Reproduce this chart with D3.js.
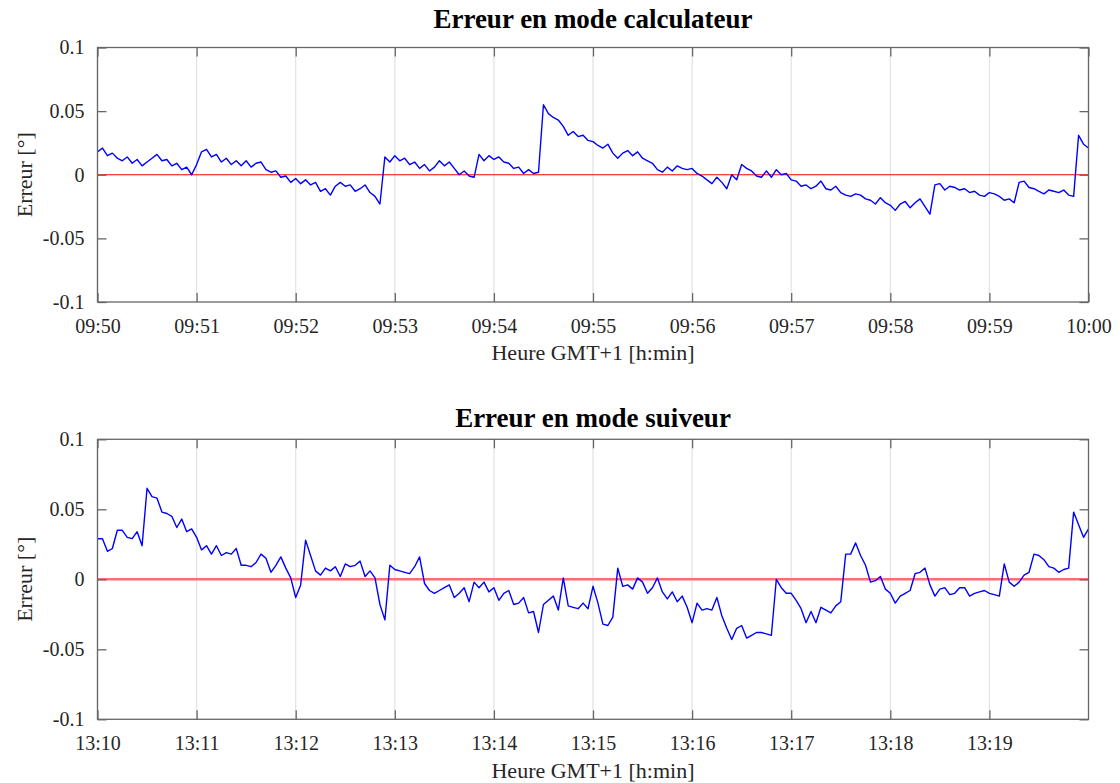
<!DOCTYPE html>
<html>
<head>
<meta charset="utf-8">
<script src="https://cdn.jsdelivr.net/npm/d3@7"></script>
<style>
	body { margin: 0; background: #fff; }
	text { font-family: 'Liberation Serif', 'Times New Roman', serif; }
</style>
</head>
<body>
<div id="chart"></div>
<script>
// sample spacing of the logged error, seconds
var sampleStep = 3;

var yTicks = [-0.1, -0.05, 0, 0.05, 0.1];
var yTickLabels = ['-0.1', '-0.05', '0', '0.05', '0.1'];

// calculator mode, 09:50 -> 10:00
var calcStart = '09:50:00';
var calcEnd = '10:00:00';
var calcTicks = ['09:50', '09:51', '09:52', '09:53', '09:54', '09:55', '09:56', '09:57', '09:58', '09:59', '10:00'];
var calcValues = [
	0.018, 0.021, 0.015, 0.017, 0.013, 0.011, 0.014, 0.009, 0.012, 0.007,
	0.010, 0.013, 0.016, 0.011, 0.012, 0.007, 0.009, 0.004, 0.006, 0.000,
	0.008, 0.018, 0.020, 0.014, 0.016, 0.010, 0.013, 0.008, 0.011, 0.007,
	0.011, 0.006, 0.009, 0.010, 0.004, 0.002, 0.003, -0.002, -0.001, -0.006,
	-0.003, -0.007, -0.004, -0.008, -0.006, -0.013, -0.011, -0.016, -0.009, -0.006,
	-0.009, -0.008, -0.013, -0.011, -0.008, -0.014, -0.017, -0.023, 0.014, 0.010,
	0.015, 0.011, 0.013, 0.008, 0.010, 0.005, 0.008, 0.003, 0.006, 0.011,
	0.007, 0.010, 0.005, 0.000, 0.003, -0.001, -0.002, 0.016, 0.011, 0.015,
	0.012, 0.014, 0.010, 0.009, 0.005, 0.006, 0.001, 0.004, 0.001, 0.002,
	0.055, 0.048, 0.045, 0.043, 0.038, 0.031, 0.034, 0.030, 0.031, 0.027,
	0.026, 0.023, 0.021, 0.024, 0.017, 0.013, 0.017, 0.019, 0.015, 0.018,
	0.013, 0.011, 0.009, 0.004, 0.002, 0.006, 0.003, 0.007, 0.005, 0.004,
	0.005, 0.001, -0.001, -0.004, -0.007, -0.002, -0.006, -0.011, 0.000, -0.004,
	0.008, 0.005, 0.003, -0.001, -0.002, 0.003, -0.002, 0.004, 0.000, 0.001,
	-0.004, -0.005, -0.009, -0.008, -0.011, -0.009, -0.005, -0.011, -0.012, -0.009,
	-0.014, -0.016, -0.017, -0.015, -0.016, -0.019, -0.020, -0.023, -0.018, -0.022,
	-0.024, -0.028, -0.023, -0.021, -0.026, -0.022, -0.019, -0.025, -0.031, -0.008,
	-0.007, -0.012, -0.009, -0.010, -0.012, -0.011, -0.014, -0.013, -0.016, -0.017,
	-0.014, -0.015, -0.017, -0.020, -0.019, -0.022, -0.006, -0.005, -0.010, -0.011,
	-0.013, -0.015, -0.012, -0.013, -0.014, -0.012, -0.016, -0.017, 0.031, 0.024,
	0.021
];

// tracker mode, 13:10 -> 13:20
var suivStart = '13:10:00';
var suivEnd = '13:20:00';
var suivTicks = ['13:10', '13:11', '13:12', '13:13', '13:14', '13:15', '13:16', '13:17', '13:18', '13:19'];
var suivValues = [
	0.029, 0.029, 0.020, 0.022, 0.035, 0.035, 0.030, 0.029, 0.034, 0.024,
	0.065, 0.059, 0.058, 0.048, 0.047, 0.045, 0.037, 0.043, 0.034, 0.036,
	0.030, 0.021, 0.024, 0.018, 0.024, 0.017, 0.019, 0.018, 0.022, 0.010,
	0.010, 0.009, 0.012, 0.018, 0.015, 0.005, 0.010, 0.016, 0.008, 0.001,
	-0.013, -0.004, 0.028, 0.017, 0.006, 0.003, 0.008, 0.006, 0.009, 0.002,
	0.011, 0.009, 0.010, 0.013, 0.002, 0.006, 0.001, -0.018, -0.029, 0.010,
	0.007, 0.006, 0.005, 0.004, 0.009, 0.016, -0.003, -0.008, -0.010, -0.008,
	-0.006, -0.004, -0.013, -0.010, -0.006, -0.016, -0.002, -0.006, -0.002, -0.009,
	-0.006, -0.015, -0.010, -0.008, -0.018, -0.017, -0.013, -0.024, -0.023, -0.038,
	-0.018, -0.015, -0.012, -0.022, 0.001, -0.019, -0.020, -0.021, -0.017, -0.021,
	-0.005, -0.017, -0.032, -0.033, -0.027, 0.008, -0.005, -0.004, -0.007, 0.001,
	-0.002, -0.010, -0.006, 0.001, -0.009, -0.014, -0.009, -0.016, -0.012, -0.020,
	-0.031, -0.017, -0.022, -0.021, -0.022, -0.013, -0.026, -0.035, -0.043, -0.035,
	-0.033, -0.042, -0.040, -0.038, -0.038, -0.039, -0.040, 0.000, -0.006, -0.010,
	-0.010, -0.015, -0.021, -0.031, -0.023, -0.031, -0.020, -0.022, -0.024, -0.019,
	-0.016, 0.018, 0.018, 0.026, 0.017, 0.010, -0.002, -0.001, 0.002, -0.007,
	-0.010, -0.017, -0.012, -0.010, -0.008, 0.004, 0.005, 0.008, -0.004, -0.012,
	-0.007, -0.006, -0.011, -0.010, -0.006, -0.006, -0.012, -0.010, -0.009, -0.008,
	-0.010, -0.011, -0.012, 0.011, -0.002, -0.005, -0.002, 0.003, 0.005, 0.018,
	0.017, 0.014, 0.009, 0.008, 0.005, 0.007, 0.008, 0.048, 0.039, 0.030,
	0.036
];

var width = 1120;
var height = 783;
var left = 97.5;
var right = 1088.5;

var parseTime = d3.timeParse('%H:%M:%S');
var parseMin = d3.timeParse('%H:%M');

var svg = d3.select('#chart').append('svg')
	.attr('width', width)
	.attr('height', height);

const drawPanel = (p, idx) => {
	var t0 = parseTime(p.start);
	var x = d3.scaleTime().domain([t0, parseTime(p.end)]).range([left, right]);
	var y = d3.scaleLinear().domain([-0.1, 0.1]).range([p.bottom, p.top]);
	var points = p.values.map((v, i) => ({ t: d3.timeSecond.offset(t0, i * sampleStep), v: v }));
	var tickDates = p.ticks.map(parseMin);

	var g = svg.append('g');

	g.append('clipPath').attr('id', 'clip' + idx)
		.append('rect')
		.attr('x', left).attr('y', p.top)
		.attr('width', right - left).attr('height', p.bottom - p.top);

	// vertical grid
	g.selectAll('.grid')
		.data(tickDates)
		.enter()
		.append('line')
		.attr('x1', (d) => x(d)).attr('x2', (d) => x(d))
		.attr('y1', p.top).attr('y2', p.bottom)
		.attr('stroke', '#e4e4e4')
		.attr('stroke-width', 1.3);

	// zero reference
	g.append('line')
		.attr('x1', left).attr('x2', right)
		.attr('y1', y(0)).attr('y2', y(0))
		.attr('stroke', p.zeroColor)
		.attr('stroke-width', p.zeroWidth);

	// error signal
	var line = d3.line().x((d) => x(d.t)).y((d) => y(d.v));
	g.append('path')
		.datum(points)
		.attr('clip-path', 'url(#clip' + idx + ')')
		.attr('d', line)
		.attr('fill', 'none')
		.attr('stroke', '#0000ff')
		.attr('stroke-width', 1.4)
		.attr('stroke-linejoin', 'round');

	// axes, ticks pointing inward on all sides
	var fmt = d3.timeFormat('%H:%M');
	var ax = [
		g.append('g').attr('transform', 'translate(0,' + p.bottom + ')')
			.call(d3.axisBottom(x).tickValues(tickDates).tickFormat(fmt).tickSizeInner(-9).tickSizeOuter(0).tickPadding(17)),
		g.append('g').attr('transform', 'translate(0,' + p.top + ')')
			.call(d3.axisTop(x).tickValues(tickDates).tickFormat('').tickSizeInner(-9).tickSizeOuter(0)),
		g.append('g').attr('transform', 'translate(' + left + ',0)')
			.call(d3.axisLeft(y).tickValues(yTicks).tickFormat((d, i) => yTickLabels[i]).tickSizeInner(-9).tickSizeOuter(0).tickPadding(13)),
		g.append('g').attr('transform', 'translate(' + right + ',0)')
			.call(d3.axisRight(y).tickValues(yTicks).tickFormat('').tickSizeInner(-9).tickSizeOuter(0)),
	];
	ax.forEach((a) => {
		a.select('.domain').remove();
		a.selectAll('line').attr('stroke', '#666').attr('stroke-width', 1.3);
		a.selectAll('text')
			.attr('fill', '#262626')
			.style('font-family', "'Liberation Serif', serif")
			.style('font-size', '20px');
	});

	g.append('rect')
		.attr('x', left).attr('y', p.top)
		.attr('width', right - left).attr('height', p.bottom - p.top)
		.attr('fill', 'none')
		.attr('stroke', '#666')
		.attr('stroke-width', 1.3);

	// labels
	g.append('text')
		.attr('x', (left + right) / 2).attr('y', p.titleY)
		.attr('text-anchor', 'middle')
		.style('font-size', '27px')
		.style('font-weight', 'bold')
		.attr('fill', '#000')
		.text(p.title);

	g.append('text')
		.attr('x', (left + right) / 2).attr('y', p.xLabelY)
		.attr('text-anchor', 'middle')
		.style('font-size', '22px')
		.attr('fill', '#262626')
		.text('Heure GMT+1 [h:min]');

	g.append('text')
		.attr('transform', 'translate(32,' + (p.top + p.bottom) / 2 + ')rotate(-90)')
		.attr('text-anchor', 'middle')
		.style('font-size', '22px')
		.attr('fill', '#262626')
		.text('Erreur [°]');
};

drawPanel({
	title: 'Erreur en mode calculateur',
	start: calcStart, end: calcEnd, ticks: calcTicks, values: calcValues,
	top: 47.5, bottom: 302, titleY: 28, xLabelY: 360,
	zeroColor: '#ff0000', zeroWidth: 1.2,
}, 0);

drawPanel({
	title: 'Erreur en mode suiveur',
	start: suivStart, end: suivEnd, ticks: suivTicks, values: suivValues,
	top: 439.3, bottom: 719.3, titleY: 427, xLabelY: 778,
	zeroColor: '#ff6e6e', zeroWidth: 2.5,
}, 1);
</script>
</body>
</html>
